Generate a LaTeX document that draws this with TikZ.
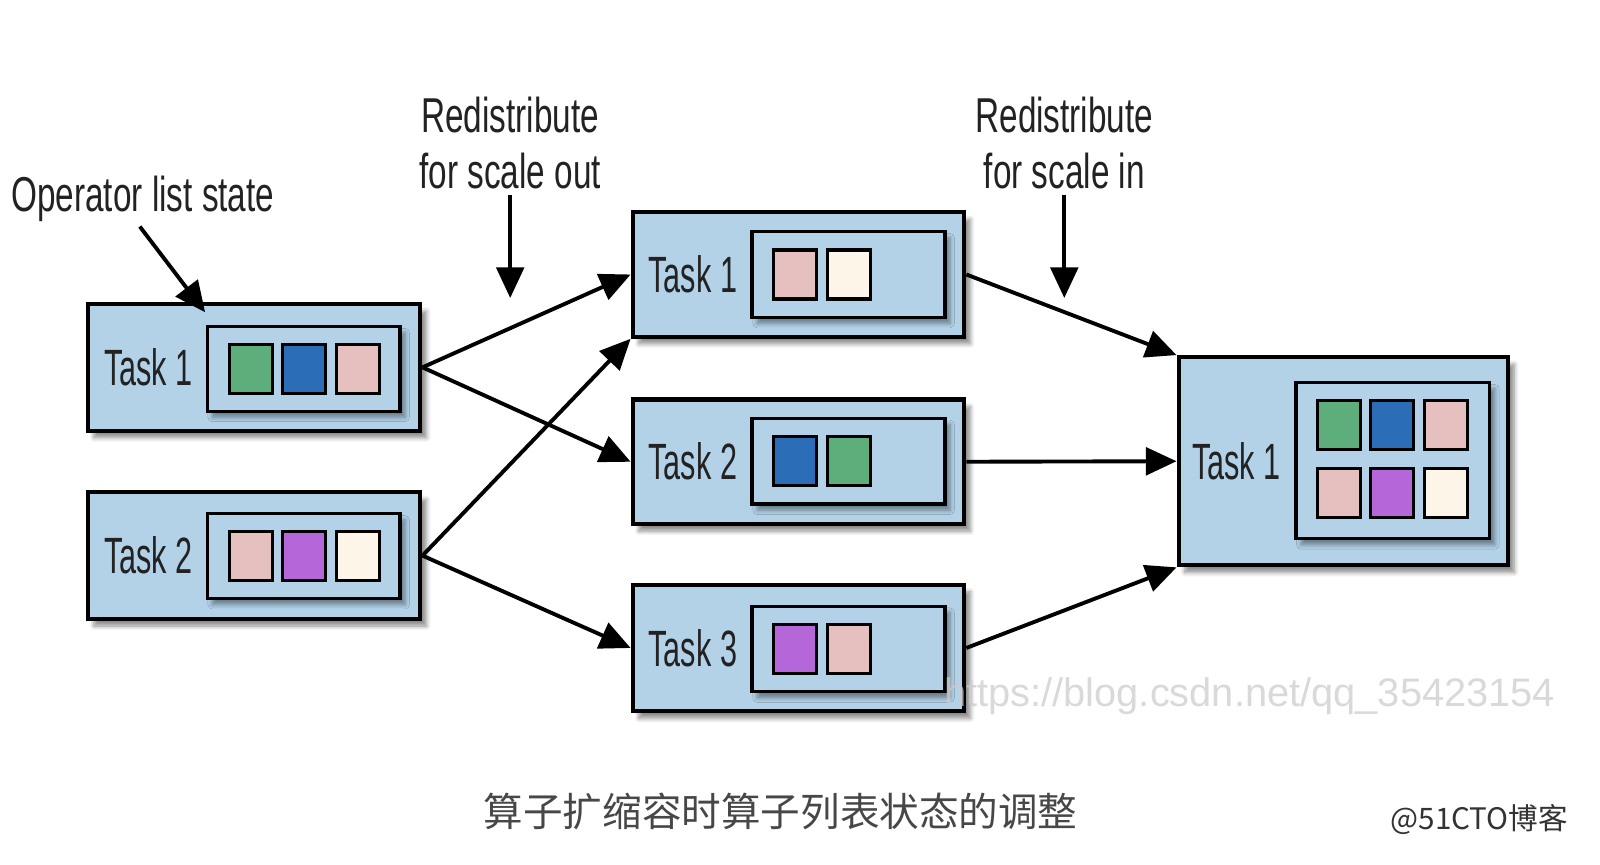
\documentclass[tikz,border=0pt]{standalone}
\usepackage{fontspec}
\setmainfont{Liberation Sans}[FakeStretch=0.6]
\newfontfamily\annotfont{Liberation Sans}[FakeStretch=0.68]
\newfontfamily\cjk{Noto Sans CJK SC}
\newfontfamily\wmfont{Liberation Sans}
\usetikzlibrary{arrows.meta,shadows.blur}
\definecolor{boxblue}{HTML}{B3D2E8}
\definecolor{sqgreen}{HTML}{5EAE7B}
\definecolor{sqblue}{HTML}{2B6DB6}
\definecolor{sqpink}{HTML}{E6BFBF}
\definecolor{sqpurple}{HTML}{B566D8}
\definecolor{sqcream}{HTML}{FDF5E8}
\definecolor{txt}{HTML}{222222}
\tikzset{
  outerbox/.style={draw=black, line width=2pt, fill=boxblue, inner sep=0pt,
    blur shadow={shadow xshift=3pt, shadow yshift=-3.5pt, shadow opacity=45, shadow blur steps=6}},
  innerbox/.style={draw=black, line width=1.6pt, fill=boxblue, inner sep=0pt,
    blur shadow={shadow xshift=2.5pt, shadow yshift=-3pt, shadow opacity=40, shadow blur steps=5}},
  sq/.style={draw=black, line width=1.5pt, inner sep=0pt, minimum width=21pt, minimum height=24pt},
  tasklbl/.style={text=txt, font=\fontsize{25}{30}\selectfont, inner sep=0pt},
  annot/.style={text=txt, font=\annotfont\fontsize{24}{27.5}\selectfont, align=center, inner sep=0pt},
  conn/.style={draw=black, line width=1.9pt, -{Triangle[length=15pt,width=13.5pt]}},
}
\begin{document}
\begin{tikzpicture}[x=0.5pt,y=-0.5pt]
\useasboundingbox (0,0) rectangle (1568,847);

% ---------- left column ----------
\node[outerbox, minimum width=163pt, minimum height=62pt] (L1) at (249,360) {};
\node[innerbox, minimum width=94.5pt, minimum height=41.5pt] (L1i) at (297.5,361.5) {};
\node[sq, fill=sqgreen] (L1a) at (246,361.5) {};
\node[sq, fill=sqblue] (L1b) at (298,361.5) {};
\node[sq, fill=sqpink] (L1c) at (351,361.5) {};
\node[tasklbl] (L1t) at (145.5,360) {Task 1};

\node[outerbox, minimum width=163pt, minimum height=62pt] (L2) at (249,544.5) {};
\node[innerbox, minimum width=94.5pt, minimum height=41.5pt] (L2i) at (297.5,545) {};
\node[sq, fill=sqpink] (L2a) at (246,545) {};
\node[sq, fill=sqpurple] (L2b) at (298,545) {};
\node[sq, fill=sqcream] (L2c) at (351,545) {};
\node[tasklbl] (L2t) at (145.5,544.5) {Task 2};

% ---------- middle column ----------
\node[outerbox, minimum width=162.5pt, minimum height=61pt] (M1) at (782.5,269) {};
\node[innerbox, minimum width=94.5pt, minimum height=42pt] (M1i) at (831.5,269) {};
\node[sq, fill=sqpink] (M1a) at (779,269) {};
\node[sq, fill=sqcream] (M1b) at (832,269) {};
\node[tasklbl] (M1t) at (679,269) {Task 1};

\node[outerbox, minimum width=162.5pt, minimum height=61pt] (M2) at (782.5,452.5) {};
\node[innerbox, minimum width=94.5pt, minimum height=42pt] (M2i) at (831.5,452) {};
\node[sq, fill=sqblue] (M2a) at (779,452) {};
\node[sq, fill=sqgreen] (M2b) at (832,452) {};
\node[tasklbl] (M2t) at (679,452.5) {Task 2};

\node[outerbox, minimum width=162.5pt, minimum height=62pt] (M3) at (782.5,635) {};
\node[innerbox, minimum width=94.5pt, minimum height=42pt] (M3i) at (831.5,636) {};
\node[sq, fill=sqpurple] (M3a) at (779,636) {};
\node[sq, fill=sqpink] (M3b) at (832,636) {};
\node[tasklbl] (M3t) at (679,635) {Task 3};

% ---------- right ----------
\node[outerbox, minimum width=161.5pt, minimum height=102pt] (R) at (1316.5,452) {};
\node[innerbox, minimum width=95pt, minimum height=76.5pt] (Ri) at (1365,451.5) {};
\node[sq, fill=sqgreen] (Ra) at (1312,416.5) {};
\node[sq, fill=sqblue] (Rb) at (1364,416.5) {};
\node[sq, fill=sqpink] (Rc) at (1417,416.5) {};
\node[sq, fill=sqpink] (Rd) at (1312,483) {};
\node[sq, fill=sqpurple] (Re) at (1364,483) {};
\node[sq, fill=sqcream] (Rf) at (1417,483) {};
\node[tasklbl] (Rt) at (1211.5,452) {Task 1};

% ---------- annotations ----------
\node[annot] (ops) at (140,195) {Operator list state};
\coordinate (opsTip) at (201,306);
\draw[conn] (137,222) -- (opsTip);

\node[annot] (rso) at (500,140) {Redistribute\\for scale out};
\coordinate (rsoTip) at (500,292);
\draw[conn] (rso.south) ++(0,6) -- (rsoTip);

\node[annot] (rsi) at (1043,140) {Redistribute\\for scale in};
\coordinate (rsiTip) at (1043,292);
\draw[conn] (rsi.south) ++(0,6) -- (rsiTip);

% ---------- connectors ----------
\draw[conn] (L1.east) -- (M1.west);
\draw[conn] (L1.east) -- (M2.west);
\draw[conn] (L2.east) -- (M1.south west);
\draw[conn] (L2.east) -- (M3.west);
\draw[conn] (M1.east) -- (R.north west);
\draw[conn] (M2.east) -- (R.west);
\draw[conn] (M3.east) -- (R.south west);

% ---------- watermark & captions ----------
\node[anchor=west, inner sep=0pt, text=black!20, opacity=0.75,
  font=\wmfont\fontsize{19.5}{22}\selectfont] (wm) at (925,682) {https://blog.csdn.net/qq\_35423154};
\node[inner sep=0pt, text=black!72, font=\cjk\fontsize{19.4}{22}\selectfont] (cap) at (765,795) {算子扩缩容时算子列表状态的调整};
\node[anchor=east, inner sep=0pt, text=black!80, font=\cjk\fontsize{14.5}{17}\selectfont] (brand) at (1537,803) {@51CTO博客};
\end{tikzpicture}
\end{document}
